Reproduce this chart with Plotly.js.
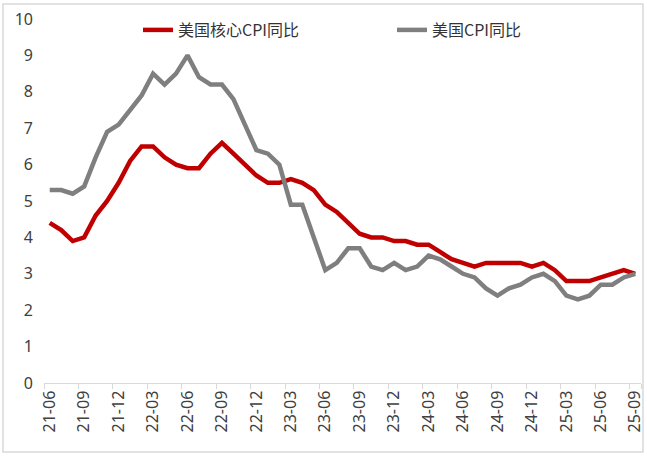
<!DOCTYPE html>
<html>
<head>
<meta charset="utf-8">
<script src="https://cdn.plot.ly/plotly-3.0.1.min.js"></script>
<style>
html,body{margin:0;padding:0;background:#fff;}
#chart{width:647px;height:456px;}
</style>
</head>
<body>
<div id="chart"></div>
<script>
// Months (category axis)
const months = [
  "21-06","21-07","21-08","21-09","21-10","21-11","21-12",
  "22-01","22-02","22-03","22-04","22-05","22-06","22-07","22-08","22-09","22-10","22-11","22-12",
  "23-01","23-02","23-03","23-04","23-05","23-06","23-07","23-08","23-09","23-10","23-11","23-12",
  "24-01","24-02","24-03","24-04","24-05","24-06","24-07","24-08","24-09","24-10","24-11","24-12",
  "25-01","25-02","25-03","25-04","25-05","25-06","25-07","25-08","25-09"
];
// Tick labels shown (every 3 months)
const tickLabels = ["21-06","21-09","21-12","22-03","22-06","22-09","22-12","23-03","23-06",
  "23-09","23-12","24-03","24-06","24-09","24-12","25-03","25-06","25-09"];

// 美国核心CPI同比 (%)
const coreCPI = [4.4,4.2,3.9,4.0,4.6,5.0,5.5,6.1,6.5,6.5,6.2,6.0,5.9,5.9,6.3,6.6,6.3,6.0,5.7,5.5,
  5.5,5.6,5.5,5.3,4.9,4.7,4.4,4.1,4.0,4.0,3.9,3.9,3.8,3.8,3.6,3.4,3.3,3.2,3.3,3.3,
  3.3,3.3,3.2,3.3,3.1,2.8,2.8,2.8,2.9,3.0,3.1,3.0];
// 美国CPI同比 (%)
const headlineCPI = [5.3,5.3,5.2,5.4,6.2,6.9,7.1,7.5,7.9,8.5,8.2,8.5,9.0,8.4,8.2,8.2,7.8,7.1,6.4,6.3,
  6.0,4.9,4.9,4.0,3.1,3.3,3.7,3.7,3.2,3.1,3.3,3.1,3.2,3.5,3.4,3.2,3.0,2.9,2.6,2.4,
  2.6,2.7,2.9,3.0,2.8,2.4,2.3,2.4,2.7,2.7,2.9,3.0];

const seriesNames = ["美国核心CPI同比","美国CPI同比"];
const seriesColors = ["#C00000","#7F7F7F"];

const textFont = '"Noto Sans", "Noto Sans CJK SC", sans-serif';
const cjkFont = '"Noto Sans CJK SC", "Noto Sans", sans-serif';

const traces = [
  {x: months, y: coreCPI, name: seriesNames[0], type: "scatter", mode: "lines",
   line: {color: seriesColors[0], width: 4.5}, legendwidth: 209},
  {x: months, y: headlineCPI, name: seriesNames[1], type: "scatter", mode: "lines",
   line: {color: seriesColors[1], width: 4.5}, legendwidth: 100}
];

const L = 44, R = 6, T = 19, B = 73, W = 647, H = 456;
const pw = W - L - R, ph = H - T - B;

const layout = {
  width: W, height: H,
  margin: {l: L, r: R, t: T, b: B, pad: 0, autoexpand: false},
  paper_bgcolor: "#ffffff",
  plot_bgcolor: "#ffffff",
  showlegend: true,
  legend: {
    orientation: "h",
    x: (138 - L) / pw, xanchor: "left",
    y: 1 + (T - 13) / ph, yanchor: "top",
    font: {family: cjkFont, size: 16, color: "#333333"},
    bgcolor: "rgba(0,0,0,0)",
    traceorder: "normal"
  },
  xaxis: {
    type: "category",
    categoryorder: "array", categoryarray: months,
    range: [-0.5, months.length - 0.5],
    tickmode: "array", tickvals: tickLabels, ticktext: tickLabels,
    tickson: "boundaries",
    ticks: "outside", ticklen: 5, tickcolor: "#d9d9d9", tickwidth: 1,
    tickangle: -90,
    tickfont: {family: textFont, size: 16, color: "#404040"},
    showline: true, linecolor: "#d9d9d9", linewidth: 1.3,
    showgrid: false, zeroline: false, fixedrange: true
  },
  yaxis: {
    range: [0, 10],
    tickmode: "linear", tick0: 0, dtick: 1,
    ticks: "", showline: false, showgrid: false, zeroline: false,
    tickfont: {family: textFont, size: 16, color: "#404040"},
    ticklabelstandoff: 10,
    fixedrange: true
  },
  shapes: [{
    type: "rect", xref: "paper", yref: "paper", layer: "below",
    x0: (3 - L) / pw, x1: (643 - L) / pw,
    y0: -(452 - (H - B)) / ph, y1: 1 + (T - 4) / ph,
    line: {color: "#d9d9d9", width: 1.5}, fillcolor: "rgba(0,0,0,0)"
  }],
  hovermode: false
};

Plotly.newPlot("chart", traces, layout, {staticPlot: true, displayModeBar: false});
</script>
</body>
</html>
